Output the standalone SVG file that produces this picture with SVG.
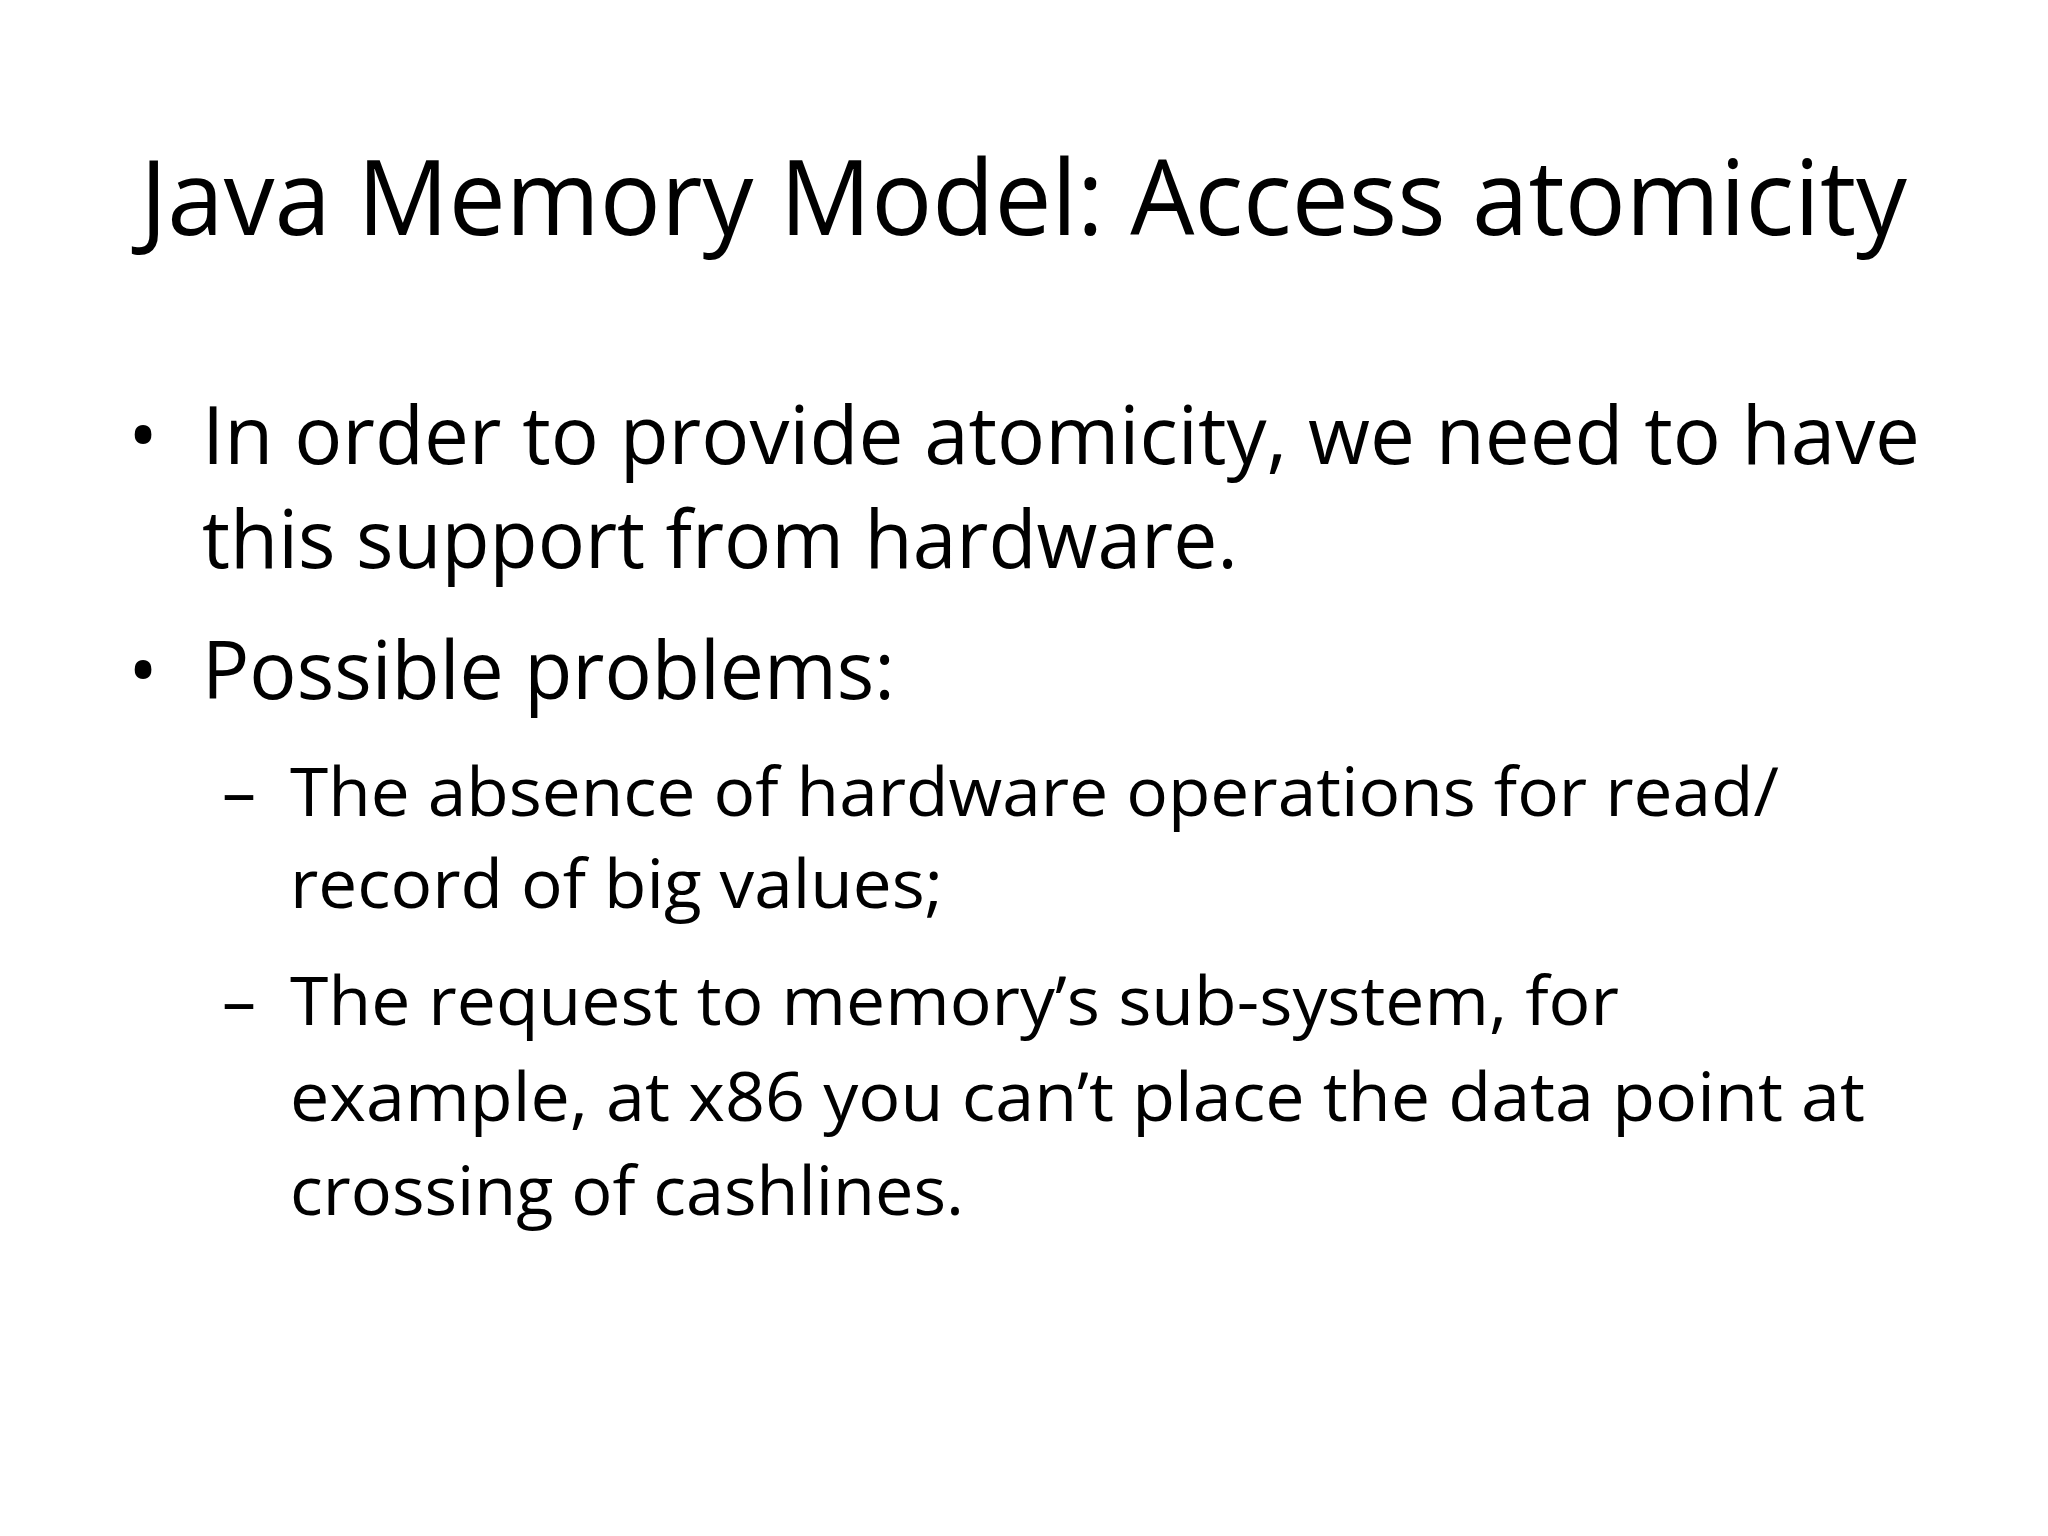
<svg xmlns="http://www.w3.org/2000/svg" width="2048" height="1536" viewBox="0 0 2048 1536">
<style>
text{font-family:"Open Sans","Liberation Sans",sans-serif;fill:#000}
.t{font-size:104px}
.b{font-size:80px}
.s{font-size:68px}
</style>
<rect width="2048" height="1536" fill="#fff"/>
<g id="title"><text class="t" x="140" y="235" textLength="1767" lengthAdjust="spacingAndGlyphs">Java Memory Model: Access atomicity</text></g>
<g id="body">
<text class="b" x="128" y="464">•</text>
<text class="b" x="202" y="464" textLength="1718" lengthAdjust="spacingAndGlyphs">In order to provide atomicity, we need to have</text>
<text class="b" x="202" y="568" textLength="1036" lengthAdjust="spacingAndGlyphs">this support from hardware.</text>
<text class="b" x="128" y="699">•</text>
<text class="b" x="202" y="699" textLength="693" lengthAdjust="spacingAndGlyphs">Possible problems:</text>
<text class="s" x="222" y="816">–</text>
<text class="s" x="290" y="816" textLength="1489" lengthAdjust="spacingAndGlyphs">The absence of hardware operations for read/</text>
<text class="s" x="290" y="908" textLength="653" lengthAdjust="spacingAndGlyphs">record of big values;</text>
<text class="s" x="222" y="1025">–</text>
<text class="s" x="290" y="1025" textLength="1329" lengthAdjust="spacingAndGlyphs">The request to memory’s sub-system, for</text>
<text class="s" x="290" y="1121" textLength="1575" lengthAdjust="spacingAndGlyphs">example, at x86 you can’t place the data point at</text>
<text class="s" x="290" y="1215" textLength="674" lengthAdjust="spacingAndGlyphs">crossing of cashlines.</text>
</g>
</svg>
